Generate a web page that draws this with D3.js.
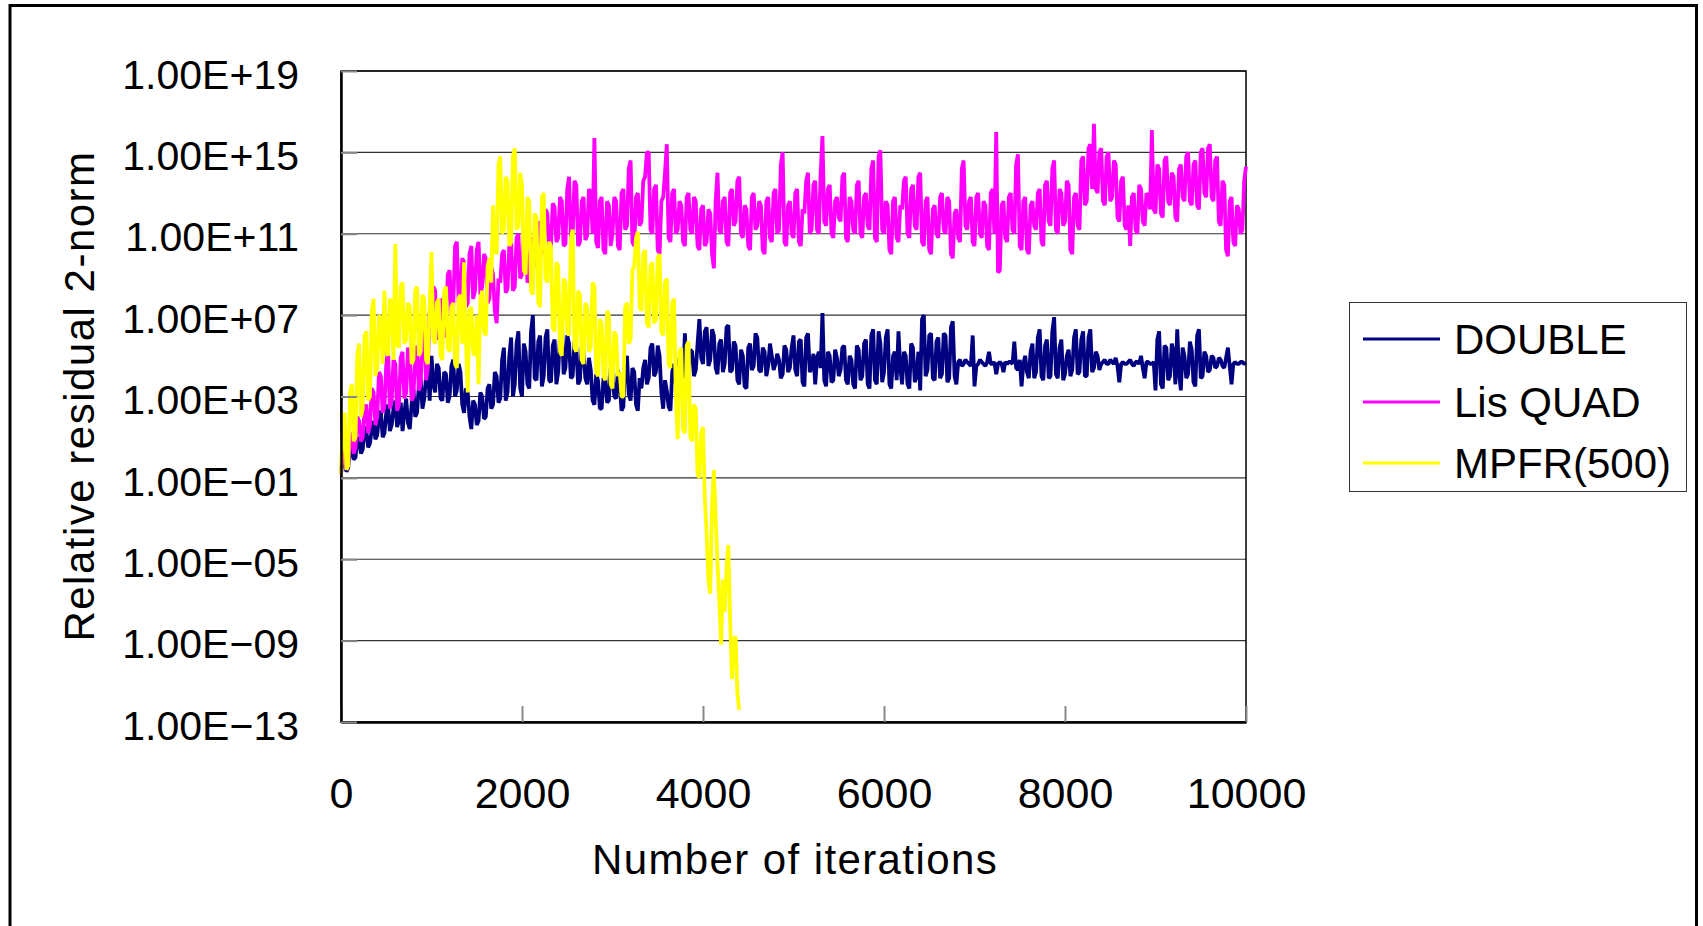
<!DOCTYPE html>
<html>
<head>
<meta charset="utf-8">
<script src="https://cdn.jsdelivr.net/npm/d3@7"></script>
<style>
  body { margin: 0; background: #fff; }
  svg { display: block; }
  text { font-family: "Liberation Sans", Arial, sans-serif; fill: #000; }
</style>
</head>
<body>
<script>
// residual history, log10 of relative residual 2-norm, one value every 20 iterations
// (each row below = 1000 iterations)
var iterStep = 20;
var seriesNames = ['DOUBLE', 'Lis QUAD', 'MPFR(500)'];
var seriesColors = ['#000080', '#ff00ff', '#ffff00'];
var xTicks = [0, 2000, 4000, 6000, 8000, 10000];
var yTicks = [1e-13, 1e-9, 1e-5, 1e-1, 1e3, 1e7, 1e11, 1e15, 1e19];

var doubleRes = [
  -0.8,0.1,-0.2,-0.7,-0.5,0.6,0.3,-0.1,0.0,1.0,0.8,0.2,0.4,1.5,1.3,0.5,0.7,1.4,1.8,0.9,1.1,2.0,2.3,1.0,1.2,2.2,2.6,1.3,1.6,2.4,2.8,1.5,1.8,2.7,1.3,2.2,2.9,1.7,1.4,2.6,3.4,2.0,2.2,3.5,3.9,2.4,2.9,4.0,4.3,2.8,
  5.0,3.6,3.2,4.6,4.4,2.9,2.8,4.2,4.1,2.7,3.0,4.5,4.8,3.0,3.3,4.6,4.2,2.6,2.2,3.4,3.2,2.0,1.4,2.8,2.6,1.6,1.8,3.2,3.0,1.9,2.0,3.4,3.6,2.4,2.6,4.2,4.0,2.7,2.9,4.8,5.4,2.8,3.2,5.0,5.9,3.0,3.6,5.6,6.2,3.4,
  3.0,5.6,5.2,3.6,3.4,6.2,7.0,3.9,3.8,5.7,6.0,3.5,4.0,5.9,6.3,3.8,3.7,5.5,5.8,3.6,4.2,6.0,6.8,4.1,4.4,6.0,5.6,3.9,4.0,5.7,5.4,3.6,3.8,5.5,5.2,3.9,3.6,4.9,4.3,2.8,2.6,4.1,3.8,2.4,2.4,3.9,4.0,2.7,2.8,4.4,
  4.1,3.0,2.9,4.3,3.6,2.3,2.5,4.6,5.0,3.1,2.8,4.4,4.2,2.6,2.3,3.9,3.4,4.4,4.8,3.6,3.9,5.4,5.6,4.0,4.2,5.5,5.0,3.2,2.4,3.8,3.3,2.5,2.3,4.2,4.6,3.6,3.8,4.9,4.7,3.9,6.1,4.2,4.4,5.3,5.2,4.0,4.3,5.6,6.8,4.9,
  4.6,6.2,6.4,4.5,4.8,6.3,6.0,4.4,4.1,5.6,5.8,4.2,4.6,6.4,6.5,4.2,4.3,5.7,5.5,3.8,3.6,5.3,5.0,3.5,3.4,5.4,5.6,4.3,4.5,6.1,5.9,4.3,4.2,5.4,5.2,4.0,4.5,5.6,5.0,4.3,4.6,5.1,4.8,3.9,4.1,5.5,5.3,4.2,4.4,5.4,
  6.0,4.3,4.0,5.7,5.8,3.7,3.5,5.9,6.1,4.2,4.4,5.1,3.6,4.9,5.2,4.4,7.1,3.8,3.5,5.2,5.0,3.7,3.8,5.3,4.9,4.0,4.3,5.4,5.5,3.8,3.6,5.0,4.8,3.6,3.4,5.5,5.3,3.8,4.0,5.6,5.8,3.6,3.4,6.0,6.3,3.8,3.6,6.2,5.6,3.7,
  4.2,5.9,6.3,3.6,3.4,5.0,5.2,3.8,6.2,4.4,3.6,5.2,5.0,3.6,3.4,5.6,5.4,3.7,4.0,5.2,3.3,6.8,7.0,4.0,4.3,6.0,6.1,3.9,3.8,5.7,5.9,3.9,4.1,6.1,6.0,3.7,3.9,6.4,6.7,4.0,3.6,4.7,4.8,4.5,4.6,4.8,4.7,4.6,4.5,6.0,
  3.5,4.5,4.6,4.8,4.7,4.6,4.5,4.7,5.2,4.6,4.6,4.7,4.1,4.6,4.7,4.6,4.2,4.7,4.6,4.7,4.7,4.6,5.7,4.4,4.3,4.8,3.5,4.6,5.0,4.2,3.9,5.2,5.6,3.9,4.2,5.9,6.3,4.0,3.8,5.5,5.8,3.9,4.0,6.2,6.9,4.1,3.9,5.4,5.8,3.8,
  4.1,5.0,5.3,4.0,4.3,5.9,6.3,4.1,4.2,5.8,6.2,4.0,4.0,5.9,6.3,4.2,4.4,5.2,5.0,4.3,4.6,4.7,4.8,4.6,4.6,4.8,4.7,4.6,4.9,4.5,3.7,4.6,4.7,4.6,4.6,4.7,4.8,4.6,4.5,4.7,4.7,4.6,5.0,4.4,3.9,4.7,4.7,4.6,4.6,4.7,
  3.3,5.8,6.2,3.6,3.4,5.5,5.4,3.8,4.0,5.6,5.2,3.6,6.3,4.2,3.3,5.4,5.0,3.9,4.1,5.7,5.3,3.7,3.5,6.0,6.3,3.9,4.0,5.2,5.0,4.2,4.3,5.0,4.9,4.4,4.5,4.9,4.8,4.5,4.4,4.9,5.4,4.5,3.6,4.6,4.7,4.6,4.6,4.7,4.7,4.6,
  4.65
];

var quadRes = [
  -0.8,0.4,0.0,-0.6,-0.3,1.2,1.0,0.2,0.5,2.0,1.8,0.8,1.0,2.4,2.6,1.2,1.6,3.4,3.2,1.6,2.0,4.2,4.0,2.2,2.5,4.6,5.3,2.4,2.8,4.8,4.6,2.3,2.6,4.9,5.2,2.9,3.2,5.4,5.0,2.8,3.0,5.0,5.5,3.3,3.6,6.0,6.2,3.8,4.4,7.2,
  6.8,8.4,8.2,5.8,6.0,7.8,7.6,5.9,6.5,9.0,9.2,7.0,7.4,10.4,10.6,7.6,8.0,9.8,9.6,7.4,7.6,10.0,10.4,7.8,8.2,10.2,10.6,8.0,8.4,10.0,9.8,7.6,7.8,9.4,9.0,7.2,6.6,8.8,8.6,10.0,10.2,8.1,8.3,10.4,10.6,8.2,8.4,10.8,11.0,8.8,
  9.0,11.0,11.2,8.6,8.8,10.8,10.6,9.4,9.8,11.6,11.4,10.0,10.2,12.2,12.0,10.2,10.4,12.5,12.3,10.6,10.8,12.8,12.6,10.4,10.5,13.2,13.8,10.8,11.0,13.6,13.4,10.4,10.6,12.6,12.8,10.7,10.9,13.2,13.0,11.0,15.7,10.6,10.3,12.6,12.8,10.2,10.0,12.6,12.4,10.4,
  11.0,12.8,12.6,10.4,10.2,13.0,13.2,11.2,11.4,14.2,14.6,10.6,10.4,12.8,13.0,11.4,11.6,13.6,13.8,15.0,15.0,11.2,11.0,13.2,13.4,10.2,10.0,12.6,12.8,14.0,15.4,10.8,10.6,13.0,13.2,11.0,11.2,12.6,12.4,10.6,10.4,12.8,13.0,11.2,11.0,12.8,12.6,10.4,10.2,12.2,
  12.4,10.4,10.6,12.2,12.0,10.0,9.3,12.6,14.0,11.2,11.0,12.6,12.8,10.6,10.4,13.0,13.2,11.4,11.6,13.6,13.8,11.0,10.8,12.4,12.2,10.4,10.2,12.8,13.0,11.2,11.4,12.6,12.4,10.2,10.0,12.6,12.8,10.8,10.6,13.0,13.2,11.0,11.2,14.4,15.0,10.6,10.4,12.4,12.6,11.0,
  10.8,13.0,13.2,10.6,10.4,12.2,12.0,13.6,14.0,11.0,11.2,13.4,13.6,11.2,11.0,14.0,15.8,11.6,11.4,13.2,13.4,11.0,10.8,12.6,12.8,11.8,11.6,13.8,14.0,10.8,10.6,12.8,12.6,11.2,11.0,13.4,13.6,11.0,10.8,12.8,13.0,11.4,11.2,14.2,14.6,10.8,10.6,14.8,15.1,11.2,
  11.0,12.6,12.4,10.2,10.0,12.6,12.8,10.8,10.6,12.4,12.2,13.6,13.8,11.0,10.8,13.2,13.4,11.4,11.2,13.8,14.0,10.6,10.4,12.6,12.8,10.2,10.0,12.2,12.4,11.0,10.8,12.8,13.0,11.2,11.0,12.8,12.6,10.0,9.8,12.0,12.2,10.8,10.6,14.2,14.6,11.4,11.2,12.6,12.8,10.6,
  10.4,12.8,13.0,11.0,10.8,12.6,12.4,10.4,10.2,13.0,13.2,11.0,16.0,9.1,9.2,12.4,12.6,10.8,10.6,12.8,13.0,11.2,11.0,14.4,14.9,10.4,10.2,12.6,12.8,10.2,10.0,12.4,12.6,11.4,11.2,13.0,13.2,10.6,10.4,13.4,13.6,11.6,11.4,14.2,14.6,11.2,11.0,13.2,13.0,11.4,
  11.6,13.6,13.4,10.2,10.0,12.8,13.0,11.4,11.2,14.6,14.8,12.4,12.6,15.2,15.4,13.2,16.4,13.2,13.0,15.0,15.2,12.6,12.4,14.8,15.0,12.6,12.8,14.6,14.4,11.8,11.6,13.6,13.8,11.4,11.2,12.4,10.4,12.8,13.0,11.2,11.0,13.4,13.2,11.6,11.4,13.0,12.8,12.2,16.1,12.2,
  12.0,14.4,14.2,12.0,11.8,14.6,14.8,12.6,12.4,14.0,13.8,11.8,11.6,14.2,14.4,12.8,12.6,14.8,15.0,12.6,12.4,14.4,14.6,12.4,12.2,15.0,15.2,13.0,12.8,15.2,15.4,12.8,12.6,14.6,14.8,11.6,11.4,13.6,13.4,10.2,9.9,12.6,12.8,10.6,10.4,12.4,12.2,11.0,11.2,13.6,
  14.3
];

var mpfrRes = [
  -0.8,1.6,2.2,-0.6,-0.4,3.2,3.6,0.8,1.0,5.0,5.6,2.0,2.4,6.0,6.2,2.8,3.0,7.2,7.8,4.0,4.4,7.0,6.8,4.6,8.2,5.2,5.0,7.8,7.6,4.8,10.5,5.6,5.4,8.4,8.6,5.6,5.8,7.6,7.4,4.6,4.8,8.2,8.4,5.0,5.2,8.0,7.8,4.8,4.6,7.4,
  10.1,5.8,5.6,7.6,7.8,5.0,4.8,8.2,8.4,5.4,5.2,7.4,7.6,4.6,4.4,7.8,8.0,5.6,9.6,5.8,3.2,7.2,7.4,5.2,5.0,7.0,3.6,7.8,8.2,6.2,6.0,9.4,9.8,8.6,12.4,10.2,10.0,14.4,14.8,11.0,11.2,13.8,13.6,10.4,10.6,14.8,15.2,11.2,11.4,14.0,
  13.4,9.2,9.0,12.8,12.6,8.2,8.0,12.0,11.8,7.6,7.4,12.8,13.0,8.8,8.6,10.6,10.4,6.4,6.2,9.6,9.4,5.2,5.0,8.8,8.6,6.2,6.0,10.8,11.2,5.4,5.2,8.2,8.0,4.8,4.6,7.6,7.4,5.2,5.4,8.6,8.4,4.2,4.0,6.8,6.6,4.0,3.8,7.2,7.0,3.6,
  3.4,6.2,6.0,4.0,4.2,3.0,3.0,7.4,7.6,5.6,5.8,9.2,9.4,10.8,11.1,7.4,7.2,10.0,10.2,6.6,6.4,9.4,9.6,6.6,6.8,9.8,10.0,6.2,6.0,8.6,8.8,4.6,4.4,7.6,7.8,3.0,0.9,5.2,5.4,1.4,1.2,5.5,5.7,1.0,0.8,2.6,2.4,-0.8,-1.0,1.2,
  1.5,-2.0,-3.7,-6.0,-6.7,-2.4,-0.6,-3.0,-5.2,-7.0,-9.2,-6.0,-7.6,-5.4,-4.3,-8.0,-10.9,-9.0,-8.8,-11.6,-12.4
];

var width = 1703, height = 926,
    plotLeft = 341, plotRight = 1246, plotTop = 71, plotBottom = 722;

var svg = d3.select('body').append('svg')
  .attr('width', width)
  .attr('height', height);

// outer chart frame (runs off the bottom of the picture)
svg.append('rect')
  .attr('x', 10).attr('y', 5.5)
  .attr('width', 1686.5).attr('height', 1000)
  .attr('fill', '#fff')
  .attr('stroke', '#000')
  .attr('stroke-width', 3);

var x = d3.scaleLinear().domain([0, 10000]).range([plotLeft, plotRight]);
var y = d3.scaleLog().domain([1e-13, 1e19]).range([plotBottom, plotTop]);

function sciFormat(d) {
  var e = Math.round(Math.log10(d));
  var s = e < 0 ? '\u2212' : '+';
  var a = Math.abs(e);
  return '1.00E' + s + (a < 10 ? '0' + a : a);
}

// gridlines
svg.append('g').selectAll('line')
  .data(yTicks.slice(1))
  .enter().append('line')
  .attr('x1', plotLeft).attr('x2', plotRight)
  .attr('y1', function(d) { return y(d); })
  .attr('y2', function(d) { return y(d); })
  .attr('stroke', '#333')
  .attr('stroke-width', 1.2);

// plot border
svg.append('rect')
  .attr('x', plotLeft).attr('y', plotTop)
  .attr('width', plotRight - plotLeft).attr('height', plotBottom - plotTop)
  .attr('fill', 'none')
  .attr('stroke', '#000')
  .attr('stroke-width', 1.5);

// series, first series drawn first (underneath)
var series = [doubleRes, quadRes, mpfrRes];
var line = d3.line()
  .x(function(d, i) { return x(i * iterStep); })
  .y(function(d) { return y(Math.pow(10, d)); });

svg.append('g').selectAll('path')
  .data(series)
  .enter().append('path')
  .attr('d', line)
  .attr('fill', 'none')
  .attr('stroke', function(d, i) { return seriesColors[i]; })
  .attr('stroke-width', 3.8)
  .attr('stroke-linejoin', 'bevel');

// axes
var xAxis = svg.append('g')
  .attr('transform', 'translate(0,' + plotBottom + ')')
  .call(d3.axisBottom(x).tickValues(xTicks).tickFormat(d3.format('d'))
    .tickSizeInner(-16).tickSizeOuter(0).tickPadding(55));
var yAxis = svg.append('g')
  .attr('transform', 'translate(' + plotLeft + ',0)')
  .call(d3.axisLeft(y).tickValues(yTicks).tickFormat(sciFormat)
    .tickSizeInner(-16).tickSizeOuter(0).tickPadding(42));

[xAxis, yAxis].forEach(function(ax) {
  ax.select('.domain').attr('stroke', '#000').attr('stroke-width', 2.5);
  ax.selectAll('.tick line').attr('stroke', '#888').attr('stroke-width', 2);
  ax.selectAll('text').attr('fill', '#000').style('font-family', '"Liberation Sans", Arial, sans-serif');
});
xAxis.selectAll('text').style('font-size', '43px');
yAxis.selectAll('text').style('font-size', '41px').attr('dy', '0.42em');

// axis titles
svg.append('text')
  .attr('x', 795).attr('y', 874)
  .attr('text-anchor', 'middle')
  .style('font-size', '42px')
  .style('letter-spacing', '1.4px')
  .text('Number of iterations');

svg.append('text')
  .attr('transform', 'translate(94,396) rotate(-90)')
  .attr('text-anchor', 'middle')
  .style('font-size', '42px')
  .style('letter-spacing', '1.5px')
  .text('Relative residual 2-norm');

// legend
var legend = svg.append('g');
legend.append('rect')
  .attr('x', 1349.5).attr('y', 302.5)
  .attr('width', 337).attr('height', 189)
  .attr('fill', '#fff')
  .attr('stroke', '#333')
  .attr('stroke-width', 1);

var legendY = [339, 402, 463];
var items = legend.selectAll('g.item')
  .data(seriesNames)
  .enter().append('g').attr('class', 'item');
items.append('line')
  .attr('x1', 1363).attr('x2', 1440)
  .attr('y1', function(d, i) { return legendY[i]; })
  .attr('y2', function(d, i) { return legendY[i]; })
  .attr('stroke', function(d, i) { return seriesColors[i]; })
  .attr('stroke-width', 3);
items.append('text')
  .attr('x', 1454)
  .attr('y', function(d, i) { return legendY[i] + 15; })
  .style('font-size', '42px')
  .text(function(d) { return d; });
</script>
</body>
</html>
